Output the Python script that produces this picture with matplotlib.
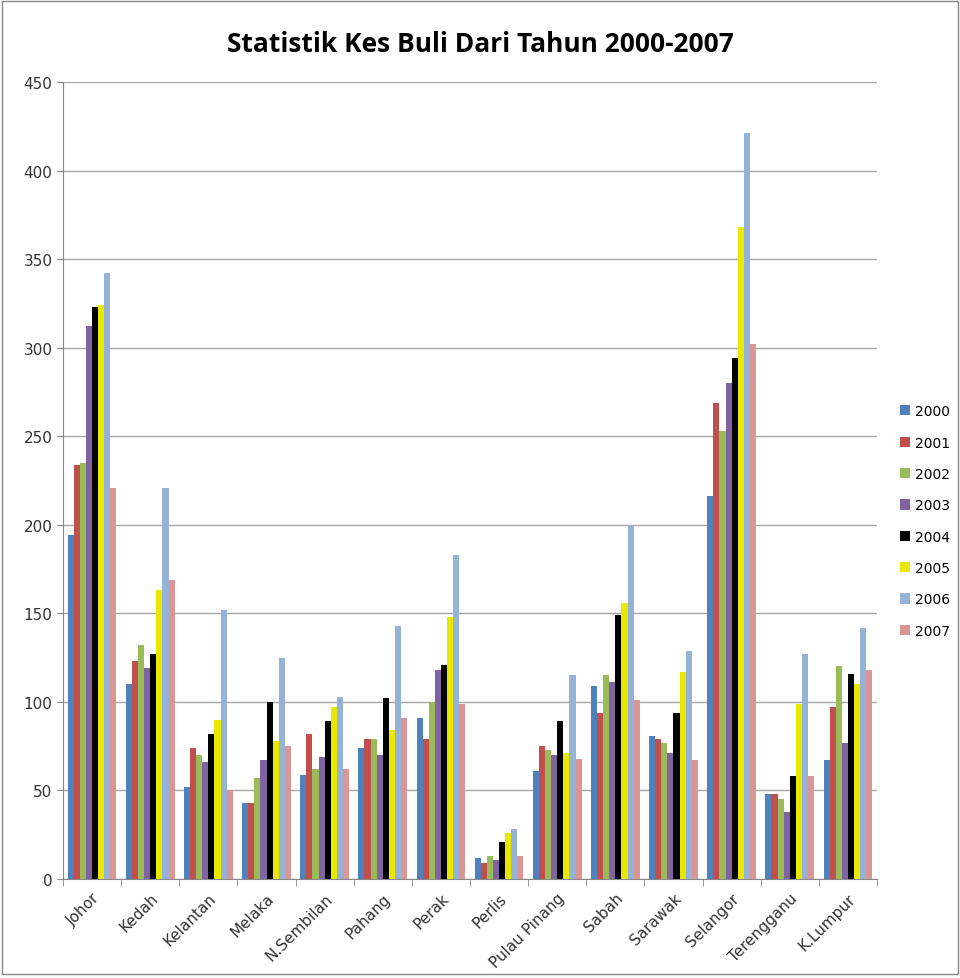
import numpy as np
import matplotlib.pyplot as plt

states = ["Johor", "Kedah", "Kelantan", "Melaka", "N.Sembilan", "Pahang", "Perak",
          "Perlis", "Pulau Pinang", "Sabah", "Sarawak", "Selangor", "Terengganu", "K.Lumpur"]
years = ["2000", "2001", "2002", "2003", "2004", "2005", "2006", "2007"]

y2000 = [194, 110, 52, 43, 59, 74, 91, 12, 61, 109, 81, 216, 48, 67]
y2001 = [234, 123, 74, 43, 82, 79, 79, 9, 75, 94, 79, 269, 48, 97]
y2002 = [235, 132, 70, 57, 62, 79, 100, 13, 73, 115, 77, 253, 45, 120]
y2003 = [312, 119, 66, 67, 69, 70, 118, 11, 70, 111, 71, 280, 38, 77]
y2004 = [323, 127, 82, 100, 89, 102, 121, 21, 89, 149, 94, 294, 58, 116]
y2005 = [324, 163, 90, 78, 97, 84, 148, 26, 71, 156, 117, 368, 99, 110]
y2006 = [342, 221, 152, 125, 103, 143, 183, 28, 115, 200, 129, 421, 127, 142]
y2007 = [221, 169, 50, 75, 62, 91, 99, 13, 68, 101, 67, 302, 58, 118]

series = [y2000, y2001, y2002, y2003, y2004, y2005, y2006, y2007]
colors = ["#4F81BD", "#C0504D", "#9BBB59", "#8064A2", "#000000", "#E8E800", "#95B3D7", "#D99694"]

fig = plt.figure(figsize=(9.6, 9.79), dpi=100)
ax = fig.add_axes([63/960, 1 - 880/979, (877-63)/960, (880-83)/979])

x = np.arange(len(states))
w = 0.105
for i, vals in enumerate(series):
    ax.bar(x - 3.5*w + i*w, vals, w, color=colors[i], label=years[i], zorder=3)

ax.set_ylim(0, 450)
ax.set_xlim(-0.5, len(states) - 0.5)
ax.set_yticks(range(0, 451, 50))
ax.yaxis.grid(True, color="#A6A6A6", linewidth=1, zorder=0)
ax.set_xticks(x)
ax.set_xticklabels(states, rotation=45, ha="right", rotation_mode="anchor", fontsize=11, color="#333333")
ax.set_xticks(np.arange(-0.5, len(states), 1), minor=True)
ax.tick_params(axis="x", which="major", length=0, pad=8)
ax.tick_params(axis="x", which="minor", length=5, color="#888888")
ax.tick_params(axis="y", length=4, color="#888888", labelsize=11, labelcolor="#333333")
for s in ["top", "right"]:
    ax.spines[s].set_visible(False)
for s in ["left", "bottom"]:
    ax.spines[s].set_color("#888888")

fig.text(0.5, 1 - 45/979, "Statistik Kes Buli Dari Tahun 2000-2007", ha="center", va="center",
         fontsize=19, fontweight="bold", family="Open Sans")

ax.legend(loc="center left", bbox_to_anchor=(900/960, 1 - 522/979), bbox_transform=fig.transFigure,
          frameon=False, handlelength=0.75, handleheight=0.75, labelspacing=1.25, fontsize=10,
          handletextpad=0.35, borderpad=0, borderaxespad=0)

fig.patches.append(plt.Rectangle((0.002, 0.004), 0.996, 0.994, transform=fig.transFigure,
                                 fill=False, edgecolor="#888888", linewidth=1))

fig.savefig("out.png", dpi=100)
